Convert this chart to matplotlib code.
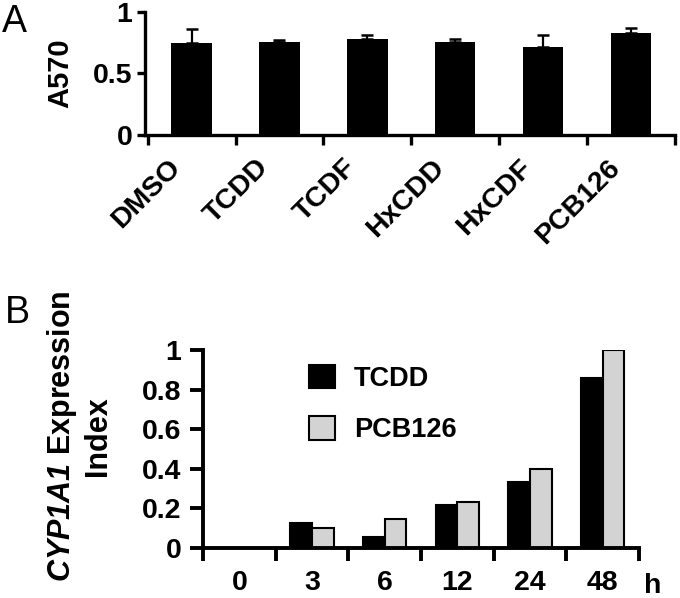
import matplotlib
matplotlib.use('Agg')
import matplotlib.pyplot as plt
from matplotlib.transforms import ScaledTranslation
from matplotlib.ticker import FormatStrFormatter
import numpy as np

# panel A: cell viability
treatments = ['DMSO', 'TCDD', 'TCDF', 'HxCDD', 'HxCDF', 'PCB126']
a570_mean = [0.744, 0.757, 0.776, 0.757, 0.714, 0.830]
a570_sd = [0.113, 0.011, 0.035, 0.021, 0.097, 0.040]

# panel B: CYP1A1 expression index over time
hours = ['0', '3', '6', '12', '24', '48']
tcdd_idx = [0.0, 0.124, 0.054, 0.216, 0.333, 0.861]
pcb126_idx = [0.0, 0.099, 0.146, 0.231, 0.397, 1.0]

plt.rcParams['font.family'] = ['Liberation Sans', 'DejaVu Sans']
plt.rcParams['font.weight'] = 'bold'
plt.rcParams['mathtext.fontset'] = 'custom'
plt.rcParams['mathtext.it'] = 'Liberation Sans:italic:bold'
plt.rcParams['mathtext.rm'] = 'Liberation Sans:italic:bold'
plt.rcParams['mathtext.bf'] = 'Liberation Sans:italic:bold'

TICK_FS = 20.5
W, H = 680, 598
fig = plt.figure(figsize=(W / 100, H / 100), dpi=100)


def px_axes(left, top, right, bottom):
    return fig.add_axes([left / W, 1 - bottom / H, (right - left) / W, (bottom - top) / H])


def style_axis(ax, lw, ticklen_x, ticklen_y):
    for s in ['top', 'right']:
        ax.spines[s].set_visible(False)
    for s in ['left', 'bottom']:
        ax.spines[s].set_linewidth(lw)
        ax.spines[s].set_capstyle('projecting')
    ax.tick_params(axis='x', which='major', length=ticklen_x, width=lw, labelbottom=False)
    ax.tick_params(axis='x', which='minor', length=0, labelsize=TICK_FS)
    ax.tick_params(axis='y', length=ticklen_y, width=lw, labelsize=TICK_FS)


# ---- A ----
axA = px_axes(145, 11.7, 675, 135)
xa = np.arange(len(treatments))
axA.bar(xa, a570_mean, width=0.46, color='black', zorder=2)
axA.errorbar(xa, a570_mean, yerr=[np.zeros(len(xa)), a570_sd], fmt='none',
             ecolor='black', elinewidth=1.6, capsize=4.5, capthick=1.8, zorder=3)
axA.set_xlim(-0.53, 5.5)
axA.set_ylim(0, 1)
axA.set_yticks([0, 0.5, 1])
axA.yaxis.set_major_formatter(FormatStrFormatter('%g'))
axA.set_xticks(np.arange(-0.5, 6, 1))
axA.set_xticks(xa, minor=True)
axA.set_xticklabels(treatments, minor=True, rotation=45, ha='right')
style_axis(axA, 2.4, 7.5, 6)
axA.tick_params(axis='x', which='minor', pad=14)
axA.tick_params(axis='y', pad=3)
shift = ScaledTranslation(-6 / 100, 0, fig.dpi_scale_trans)
for lab in axA.get_xticklabels(minor=True):
    lab.set_transform(lab.get_transform() + shift)

# ---- B ----
axB = px_axes(203, 350, 639, 548)
xb = np.arange(len(hours))
bw = 0.3
axB.bar(xb - bw / 2, tcdd_idx, width=bw, color='black', edgecolor='black',
        linewidth=1.5, label='TCDD', zorder=2)
axB.bar(xb + bw / 2, pcb126_idx, width=bw, color='#d3d3d3', edgecolor='black',
        linewidth=1.5, label='PCB126', zorder=2)
axB.set_xlim(-0.5, 5.5)
axB.set_ylim(0, 1)
axB.set_yticks(np.arange(0, 1.01, 0.2))
axB.yaxis.set_major_formatter(FormatStrFormatter('%g'))
axB.set_xticks(np.arange(-0.5, 6, 1))
axB.set_xticks(xb, minor=True)
axB.set_xticklabels(hours, minor=True)
style_axis(axB, 2.8, 9.5, 9.5)
axB.tick_params(axis='x', which='minor', pad=16)
axB.tick_params(axis='y', pad=6)
axB.legend(loc='upper left', bbox_to_anchor=(0.243, 0.925), frameon=False,
           fontsize=19.5, handlelength=0.95, handleheight=0.95, handletextpad=0.7,
           labelspacing=0.9, borderpad=0, borderaxespad=0)

# labels
fig.text(2 / W, 1 - 32 / H, 'A', fontsize=27, fontweight='normal', va='baseline')
fig.text(4.5 / W, 1 - 323 / H, 'B', fontsize=27, fontweight='normal', va='baseline')
fig.text(60 / W, 1 - 73 / H, 'A570', fontsize=21, rotation=90, ha='center', va='center')
fig.text(79 / W, 1 - 436 / H, '$CYP1A1$ Expression\nIndex', fontsize=22,
         rotation=90, ha='center', va='center', multialignment='center')
fig.text(653 / W, 1 - 593 / H, 'h', fontsize=TICK_FS, ha='center', va='baseline')

fig.savefig('out.png', dpi=100)
